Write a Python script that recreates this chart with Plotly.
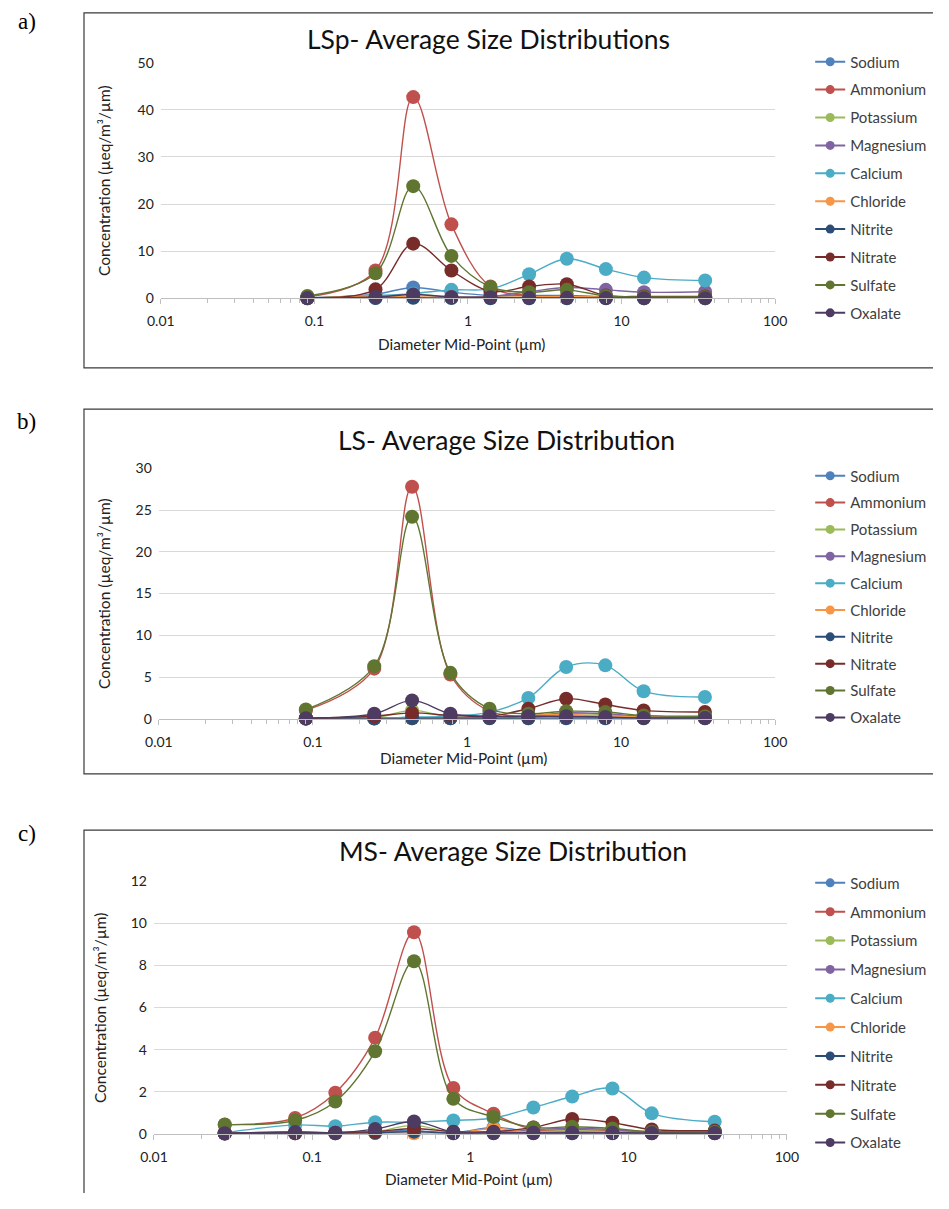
import plotly.graph_objects as go

W, H = 949, 1209          # browser window size
OFF = 8                   # default body margin of the page
FW, FH = W - 2 * OFF, H - 2 * OFF   # figure size so the page fits the window

ions = ["Sodium", "Ammonium", "Potassium", "Magnesium", "Calcium",
        "Chloride", "Nitrite", "Nitrate", "Sulfate", "Oxalate"]
colors = ["#4F81BD", "#C0504D", "#9BBB59", "#8064A2", "#4BACC6",
          "#F79646", "#2C4D75", "#772C2A", "#5F7530", "#4D3B62"]

# ---- Panel a: LSp ----
x_a = [0.09, 0.25, 0.44, 0.78, 1.4, 2.5, 4.4, 7.9, 14, 35]
a_sodium    = [0.1, 0.9, 2.3, 1.3, 0.6, 0.6, 0.6, 0.3, 0.2, 0.2]
a_ammonium  = [0.3, 5.9, 42.7, 15.7, 2.5, 0.6, 0.5, 0.3, 0.2, 0.2]
a_potassium = [0.05, 0.4, 0.8, 0.3, 0.2, 0.2, 0.3, 0.2, 0.1, 0.1]
a_magnesium = [0.02, 0.1, 0.2, 0.2, 0.4, 1.4, 2.3, 1.8, 1.3, 1.4]
a_calcium   = [0.1, 0.6, 1.0, 1.8, 2.0, 5.1, 8.4, 6.2, 4.4, 3.8]
a_chloride  = [0.02, 0.5, 0.3, 0.2, 0.2, 0.3, 0.4, 0.2, 0.1, 0.1]
a_nitrite   = [0.01, 0.05, 0.1, 0.05, 0.02, 0.02, 0.02, 0.02, 0.02, 0.02]
a_nitrate   = [0.2, 1.9, 11.6, 5.9, 1.5, 2.5, 3.0, 0.6, 0.4, 0.4]
a_sulfate   = [0.5, 5.3, 23.8, 9.0, 2.4, 1.3, 1.8, 0.5, 0.3, 0.3]
a_oxalate   = [0.05, 0.3, 0.8, 0.3, 0.2, 0.1, 0.1, 0.05, 0.03, 0.03]

# ---- Panel b: LS ----
x_b = [0.09, 0.25, 0.44, 0.78, 1.4, 2.5, 4.4, 7.9, 14, 35]
b_sodium    = [0.05, 0.05, 0.1, 0.1, 0.1, 0.3, 0.2, 0.3, 0.2, 0.1]
b_ammonium  = [1.0, 6.0, 27.8, 5.3, 0.9, 0.3, 0.3, 0.2, 0.1, 0.1]
b_potassium = [0.02, 0.1, 1.0, 0.2, 0.1, 0.05, 0.6, 0.5, 0.2, 0.1]
b_magnesium = [0.02, 0.05, 0.1, 0.1, 0.1, 0.3, 0.7, 0.6, 0.3, 0.2]
b_calcium   = [0.05, 0.05, 0.2, 0.3, 0.8, 2.5, 6.2, 6.4, 3.3, 2.6]
b_chloride  = [0.02, 0.05, 0.05, 0.05, 0.1, 0.4, 0.5, 0.3, 0.2, 0.1]
b_nitrite   = [0.01, 0.02, 0.05, 0.05, 0.05, 0.05, 0.05, 0.05, 0.05, 0.05]
b_nitrate   = [0.05, 0.3, 0.7, 0.4, 0.3, 1.2, 2.4, 1.7, 1.0, 0.8]
b_sulfate   = [1.1, 6.3, 24.2, 5.5, 1.2, 0.6, 0.9, 0.8, 0.4, 0.3]
b_oxalate   = [0.05, 0.6, 2.2, 0.6, 0.3, 0.3, 0.3, 0.2, 0.1, 0.1]

# ---- Panel c: MS ----
x_c = [0.028, 0.078, 0.14, 0.25, 0.44, 0.78, 1.4, 2.5, 4.4, 7.9, 14, 35]
c_sodium    = [0.02, 0.1, 0.05, 0.1, 0.15, 0.05, 0.3, 0.1, 0.1, 0.1, 0.05, 0.05]
c_ammonium  = [0.43, 0.75, 1.95, 4.57, 9.58, 2.18, 0.95, 0.2, 0.2, 0.15, 0.1, 0.1]
c_potassium = [0.02, 0.05, 0.05, 0.1, 0.4, 0.05, 0.1, 0.1, 0.15, 0.1, 0.05, 0.05]
c_magnesium = [0.01, 0.02, 0.02, 0.05, 0.1, 0.05, 0.1, 0.2, 0.25, 0.2, 0.05, 0.05]
c_calcium   = [0.05, 0.42, 0.36, 0.55, 0.55, 0.63, 0.75, 1.25, 1.77, 2.15, 0.97, 0.57]
c_chloride  = [0.01, 0.02, 0.02, 0.03, 0.02, 0.02, 0.25, 0.05, 0.05, 0.05, 0.02, 0.02]
c_nitrite   = [0.01, 0.02, 0.02, 0.05, 0.1, 0.02, 0.02, 0.02, 0.02, 0.02, 0.02, 0.02]
c_nitrate   = [0.02, 0.05, 0.05, 0.1, 0.25, 0.1, 0.1, 0.3, 0.7, 0.52, 0.2, 0.15]
c_sulfate   = [0.44, 0.63, 1.53, 3.92, 8.2, 1.66, 0.8, 0.3, 0.33, 0.25, 0.1, 0.1]
c_oxalate   = [0.02, 0.08, 0.05, 0.22, 0.58, 0.08, 0.05, 0.05, 0.05, 0.05, 0.03, 0.03]

titles = ["LSp- Average Size Distributions", "LS- Average Size Distribution",
          "MS- Average Size Distribution"]
panel_labels = ["a)", "b)", "c)"]
x_ticks = [0.01, 0.1, 1, 10, 100]
x_ticktext = ["0.01", "0.1", "1", "10", "100"]
y_ranges = [[0, 50], [0, 30], [0, 12]]
y_dticks = [10, 5, 2]
x_title = "Diameter Mid-Point (µm)"
y_title = "Concentration (µeq/m³/µm)"

panels = [
    (x_a, [a_sodium, a_ammonium, a_potassium, a_magnesium, a_calcium,
           a_chloride, a_nitrite, a_nitrate, a_sulfate, a_oxalate]),
    (x_b, [b_sodium, b_ammonium, b_potassium, b_magnesium, b_calcium,
           b_chloride, b_nitrite, b_nitrate, b_sulfate, b_oxalate]),
    (x_c, [c_sodium, c_ammonium, c_potassium, c_magnesium, c_calcium,
           c_chloride, c_nitrite, c_nitrate, c_sulfate, c_oxalate]),
]

# ---- layout geometry (window pixels) ----
plot_px = [  # x0, x1, ytop, ybottom
    (159, 791, 62.5, 301.5),
    (157, 791, 474, 728),
    (152, 803, 893, 1149),
]
box_px = [(80, 12, 372), (80, 414, 784), (80, 841, 1230)]
title_px = [(496, 38), (515, 445), (521, 862)]
label_px = [(21, 21), (21, 426), (21, 844)]
xtitle_px = [(468, 348), (470, 768), (476, 1195)]
ytitle_px = [(100, 182), (100, 601), (96, 1021)]
legend_px = [(827, 45), (827, 465), (827, 878)]
legend_gap = [5.4, 4.35, 6.35]

def px_x(v):
    return (v - OFF) / FW

def px_y(v):
    return 1 - (v - OFF) / FH

fig = go.Figure()
minor_vals = [m * 10 ** k for k in range(-2, 2) for m in range(2, 10)]
font_main = "Lato, 'Open Sans', sans-serif"

layout = dict(
    width=FW, height=FH, margin=dict(l=0, r=0, t=0, b=0),
    paper_bgcolor="white", plot_bgcolor="white", showlegend=True,
    shapes=[], annotations=[],
)

for p, (xs, series) in enumerate(panels):
    suffix = "" if p == 0 else str(p + 1)
    xa, ya = "x" + suffix, "y" + suffix
    leg = "legend" + suffix
    for i, name in enumerate(ions):
        fig.add_trace(go.Scatter(
            x=xs, y=series[i], mode="lines+markers", name=name,
            line=dict(color=colors[i], width=1.4, shape="spline", smoothing=1.0),
            marker=dict(color=colors[i], size=14),
            xaxis=xa, yaxis=ya, showlegend=False, cliponaxis=False,
        ))
    for i, name in enumerate(ions):
        fig.add_trace(go.Scatter(
            x=[None], y=[None], mode="lines+markers", name=name,
            line=dict(color=colors[i], width=2),
            marker=dict(color=colors[i], size=9),
            xaxis=xa, yaxis=ya, showlegend=True, legend=leg,
            legendgroup=f"{p}-{name}",
        ))
    x0, x1, yt, yb = plot_px[p]
    layout["xaxis" + suffix] = dict(
        type="log", range=[-2, 2], domain=[px_x(x0), px_x(x1)], anchor=ya,
        tickvals=x_ticks, ticktext=x_ticktext, showgrid=False,
        showline=True, linecolor="#bfbfbf", linewidth=1,
        ticks="outside", ticklen=5, tickcolor="#bfbfbf",
        ticklabelstandoff=5,
        minor=dict(tickvals=minor_vals, ticks="outside", ticklen=4,
                   tickcolor="#bfbfbf", showgrid=False),
        tickfont=dict(family=font_main, size=14, color="#222"),
        zeroline=False,
    )
    layout["yaxis" + suffix] = dict(
        range=y_ranges[p], dtick=y_dticks[p], domain=[px_y(yb), px_y(yt)],
        anchor=xa, showgrid=True, gridcolor="#d9d9d9", gridwidth=1,
        showline=False, zeroline=False, ticks="", ticklabelstandoff=6,
        tickfont=dict(family=font_main, size=14, color="#222"),
    )
    layout[leg] = dict(
        x=px_x(legend_px[p][0]), y=px_y(legend_px[p][1]),
        xanchor="left", yanchor="top", bgcolor="rgba(0,0,0,0)",
        font=dict(family=font_main, size=15, color="#404040"),
        tracegroupgap=legend_gap[p], itemclick=False,
    )
    bx, by0, by1 = box_px[p]
    layout["shapes"].append(dict(
        type="rect", xref="paper", yref="paper",
        x0=px_x(bx), x1=px_x(W + 20), y0=px_y(by1), y1=px_y(by0),
        line=dict(color="#3a3a3a", width=1.2), fillcolor="rgba(0,0,0,0)",
        layer="below",
    ))
    layout["annotations"] += [
        dict(text=titles[p], x=px_x(title_px[p][0]), y=px_y(title_px[p][1]),
             xref="paper", yref="paper", showarrow=False,
             xanchor="center", yanchor="middle",
             font=dict(family=font_main, size=26.5, color="#111")),
        dict(text=panel_labels[p], x=px_x(label_px[p][0]), y=px_y(label_px[p][1]),
             xref="paper", yref="paper", showarrow=False,
             xanchor="center", yanchor="middle",
             font=dict(family="Liberation Serif, serif", size=23, color="#000")),
        dict(text=x_title, x=px_x(xtitle_px[p][0]), y=px_y(xtitle_px[p][1]),
             xref="paper", yref="paper", showarrow=False,
             xanchor="center", yanchor="middle",
             font=dict(family=font_main, size=15.3, color="#222")),
        dict(text=y_title, x=px_x(ytitle_px[p][0]), y=px_y(ytitle_px[p][1]),
             xref="paper", yref="paper", showarrow=False, textangle=-90,
             xanchor="center", yanchor="middle",
             font=dict(family=font_main, size=15.5, color="#222")),
    ]

fig.update_layout(**layout)
fig.write_html("out.html")
